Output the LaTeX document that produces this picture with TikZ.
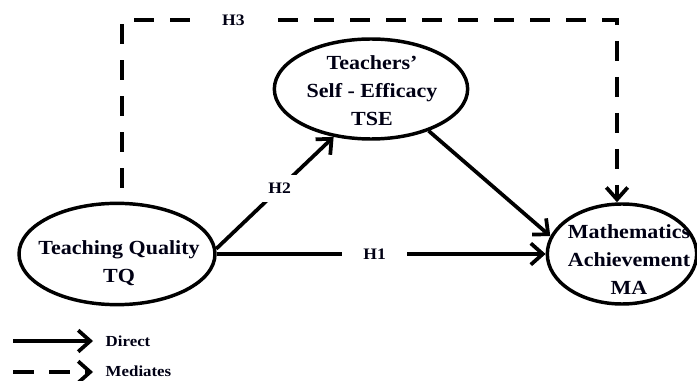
\documentclass[tikz,border=0pt]{standalone}
\usepackage{fontspec}
\setmainfont{Liberation Serif}[FakeStretch=1.1]
\usetikzlibrary{arrows.meta,shapes.geometric}
\begin{document}
\begin{tikzpicture}[x=0.75pt,y=-0.75pt,
  every node/.style={font=\bfseries},
  oval/.style={draw,ellipse,line width=2.6pt,inner sep=0pt},
  maintext/.style={align=center,font=\bfseries\fontsize{15}{21}\selectfont,text=black!92!blue},
  hlabel/.style={fill=white,font=\bfseries\fontsize{12}{14}\selectfont,text=black!92!blue},
  legtext/.style={anchor=west,font=\bfseries\fontsize{11.5}{13}\selectfont,text=black!92!blue},
  conn/.style={line width=2.8pt},
  arr/.style={conn,-{Straight Barb[length=9pt,width=16pt]}},
  dashline/.style={dash pattern=on 15pt off 12pt}]
\useasboundingbox (0,0) rectangle (697,381);
% ellipses
\node[oval,minimum width=147pt,minimum height=76pt] (TQ) at (117,254) {};
\node[oval,minimum width=145pt,minimum height=75pt] (TSE) at (371,89) {};
\node[oval,minimum width=112pt,minimum height=75pt] (MA) at (622,254) {};
% texts
\node[maintext] (tqt) at (119,263) {Teaching Quality\\TQ};
\node[maintext] (tset) at (372,91) {Teachers'\\Self - Efficacy\\TSE};
\node[maintext] (mat) at (629,260) {Mathematics\\Achievement\\MA};
% connectors
\draw[arr] (TQ.east) -- node[hlabel,pos=0.48,inner xsep=16pt] {H1} (MA.west);
\draw[arr] (TQ.3) -- node[hlabel,pos=0.54,inner sep=6pt] {H2} (TSE.232);
\draw[arr] (TSE.-36) -- (MA.166);
% H3 mediated path
\coordinate (h3s) at (122,188);
\coordinate (h3a) at (122,20);
\coordinate (h3b) at (617,20);
\draw[arr,dashline] (h3s) -- (h3a) -- node[hlabel,pos=0.225,inner xsep=14pt] {H3} (h3b) -- (MA.north -| h3b);
% legend
\coordinate (l1a) at (13,341);
\coordinate (l1b) at (93,341);
\coordinate (l2a) at (13,372);
\coordinate (l2b) at (93,372);
\draw[arr] (l1a) -- (l1b);
\draw[arr,dash pattern=on 16pt off 11pt] (l2a) -- (l2b);
\node[legtext] (ld) at (101,341) {Direct};
\node[legtext] (lm) at (101,371) {Mediates};
\end{tikzpicture}
\end{document}
